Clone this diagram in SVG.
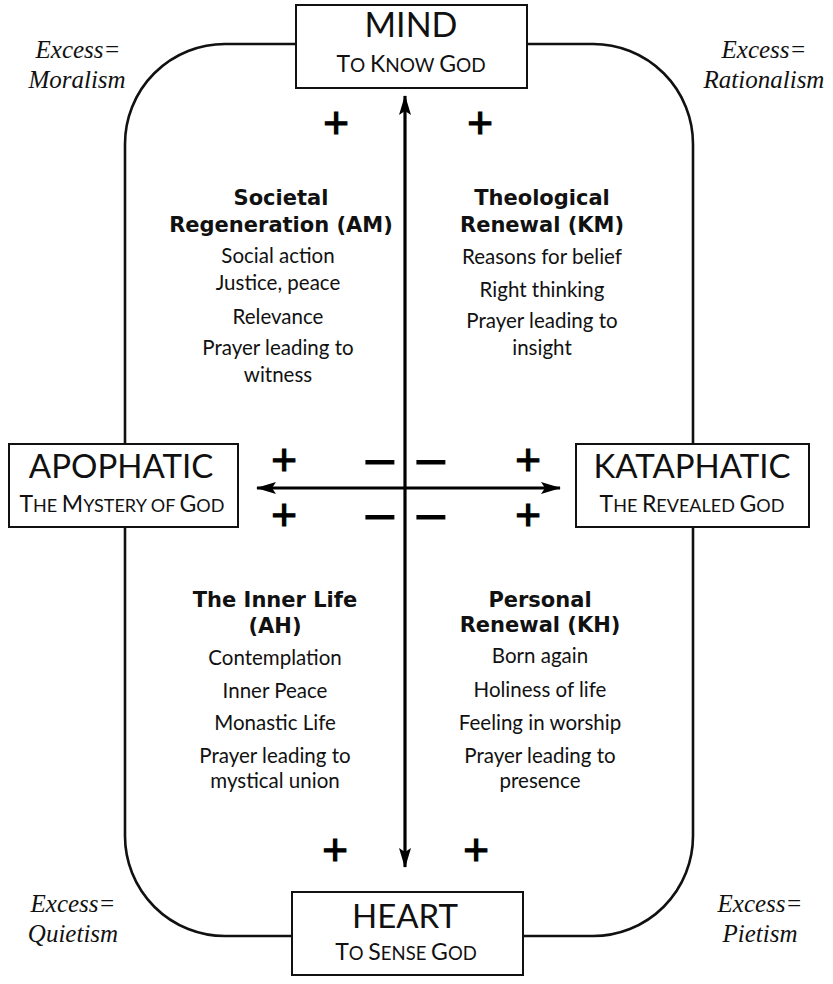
<svg xmlns="http://www.w3.org/2000/svg" width="833" height="984" viewBox="0 0 833 984">
<style>
.frame{fill:none;stroke:#111;stroke-width:2.6}
.box{fill:#fff;stroke:#111;stroke-width:2}
.axis{stroke:#000;stroke-width:3.2;fill:none}
.t{font-family:Lato,"Liberation Sans",sans-serif;fill:#111;text-anchor:middle}
.ttl{font-family:Lato,"Liberation Sans",sans-serif;fill:#111;text-anchor:middle}
.h{font-family:"DejaVu Sans",sans-serif;font-weight:700;font-size:21px}
.r{font-size:20.5px}
.ex{font-family:"Liberation Serif",serif;font-style:italic;font-size:25px;fill:#111;text-anchor:middle}
.sym{font-family:"Liberation Sans",sans-serif;fill:#000;text-anchor:middle;stroke:#000;stroke-width:1.2}
.pl{font-size:44px}
.mn{font-size:50px}
</style>
<defs>
<marker id="ah" viewBox="0 0 20 12" refX="19" refY="6" markerWidth="20" markerHeight="12" markerUnits="userSpaceOnUse" orient="auto-start-reverse">
<path d="M0,0 L20,6 L0,12 L4,6 z" fill="#000"/>
</marker>
</defs>

<rect class="frame" x="125" y="44" width="568" height="892" rx="100" ry="100"/>

<g id="connectors">
<line class="axis" x1="405" y1="96" x2="405" y2="867" marker-start="url(#ah)" marker-end="url(#ah)"/>
<line class="axis" x1="257" y1="488" x2="560" y2="488" marker-start="url(#ah)" marker-end="url(#ah)"/>
</g>

<g id="mind">
<rect class="box" x="296" y="5" width="231" height="83"/>
<text class="ttl" x="411" y="37" font-size="34">MIND</text>
<text class="ttl" x="411" y="72"><tspan font-size="23">T</tspan><tspan font-size="19">O </tspan><tspan font-size="23">K</tspan><tspan font-size="19">NOW </tspan><tspan font-size="23">G</tspan><tspan font-size="19">OD</tspan></text>
</g>

<g id="heart">
<rect class="box" x="292" y="892" width="231" height="83"/>
<text class="ttl" x="405" y="928" font-size="33">HEART</text>
<text class="ttl" x="406" y="960"><tspan font-size="23">T</tspan><tspan font-size="18.5">O </tspan><tspan font-size="23">S</tspan><tspan font-size="18.5">ENSE </tspan><tspan font-size="23">G</tspan><tspan font-size="18.5">OD</tspan></text>
</g>

<g id="apophatic">
<rect class="box" x="9" y="444" width="229" height="83"/>
<text class="ttl" x="121" y="478" font-size="33">APOPHATIC</text>
<text class="ttl" x="122" y="512"><tspan font-size="23">T</tspan><tspan font-size="18">HE </tspan><tspan font-size="23">M</tspan><tspan font-size="18">YSTERY OF </tspan><tspan font-size="23">G</tspan><tspan font-size="18">OD</tspan></text>
</g>

<g id="kataphatic">
<rect class="box" x="576" y="444" width="233" height="83"/>
<text class="ttl" x="692" y="478" font-size="33">KATAPHATIC</text>
<text class="ttl" x="692" y="512"><tspan font-size="23">T</tspan><tspan font-size="18">HE </tspan><tspan font-size="23">R</tspan><tspan font-size="18">EVEALED </tspan><tspan font-size="23">G</tspan><tspan font-size="18">OD</tspan></text>
</g>

<g id="am">
<text class="t h" x="281" y="205">Societal</text>
<text class="t h" x="281" y="232">Regeneration (AM)</text>
<text class="t r" x="278" y="263">Social action</text>
<text class="t r" x="278" y="290">Justice, peace</text>
<text class="t r" x="278" y="324">Relevance</text>
<text class="t r" x="278" y="355">Prayer leading to</text>
<text class="t r" x="278" y="382">witness</text>
</g>

<g id="km">
<text class="t h" x="542" y="205">Theological</text>
<text class="t h" x="542" y="232">Renewal (KM)</text>
<text class="t r" x="542" y="264">Reasons for belief</text>
<text class="t r" x="542" y="297">Right thinking</text>
<text class="t r" x="542" y="328">Prayer leading to</text>
<text class="t r" x="542" y="355">insight</text>
</g>

<g id="ah">
<text class="t h" x="275" y="607">The Inner Life</text>
<text class="t h" x="275" y="633">(AH)</text>
<text class="t r" x="275" y="665">Contemplation</text>
<text class="t r" x="275" y="698">Inner Peace</text>
<text class="t r" x="275" y="730">Monastic Life</text>
<text class="t r" x="275" y="763">Prayer leading to</text>
<text class="t r" x="275" y="788">mystical union</text>
</g>

<g id="kh">
<text class="t h" x="540" y="607">Personal</text>
<text class="t h" x="540" y="632">Renewal (KH)</text>
<text class="t r" x="540" y="663">Born again</text>
<text class="t r" x="540" y="697">Holiness of life</text>
<text class="t r" x="540" y="730">Feeling in worship</text>
<text class="t r" x="540" y="763">Prayer leading to</text>
<text class="t r" x="540" y="788">presence</text>
</g>

<g id="excess">
<text class="ex" x="78" y="58">Excess=</text>
<text class="ex" x="77" y="88">Moralism</text>
<text class="ex" x="764" y="58">Excess=</text>
<text class="ex" x="764" y="88">Rationalism</text>
<text class="ex" x="73" y="912">Excess=</text>
<text class="ex" x="73" y="942">Quietism</text>
<text class="ex" x="760" y="912">Excess=</text>
<text class="ex" x="760" y="942">Pietism</text>
</g>

<g id="signs">
<text class="sym pl" x="336" y="138">+</text>
<text class="sym pl" x="480" y="138">+</text>
<text class="sym pl" x="335" y="865">+</text>
<text class="sym pl" x="476" y="865">+</text>
<text class="sym pl" x="284" y="475">+</text>
<text class="sym pl" x="284" y="530">+</text>
<text class="sym pl" x="528" y="475">+</text>
<text class="sym pl" x="528" y="530">+</text>
<text class="sym mn" x="380" y="475">–</text>
<text class="sym mn" x="431" y="475">–</text>
<text class="sym mn" x="380" y="530">–</text>
<text class="sym mn" x="431" y="530">–</text>
</g>
</svg>
